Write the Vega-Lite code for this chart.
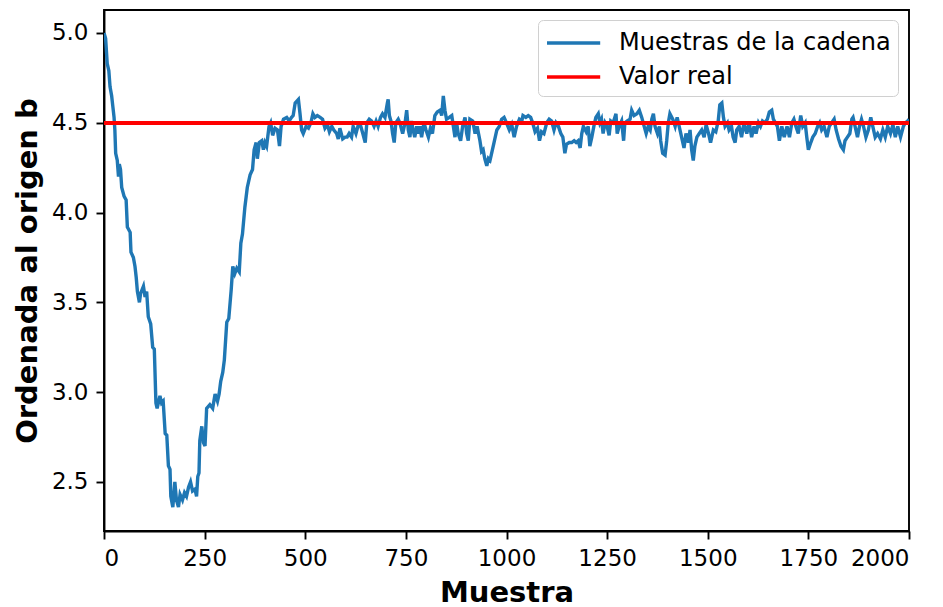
{
  "$schema": "https://vega.github.io/schema/vega-lite/v6.json",
  "width": 805,
  "height": 521,
  "autosize": {"type": "none"},
  "padding": {"left": 104, "top": 10, "right": 34, "bottom": 76},
  "background": "white",
  "config": {
    "font": "DejaVu Sans",
    "view": {"stroke": "black", "strokeWidth": 1.9},
    "axis": {
      "grid": false,
      "domainColor": "black",
      "domainWidth": 1.9,
      "tickColor": "black",
      "tickWidth": 1.9,
      "tickSize": 8,
      "labelColor": "black",
      "labelFont": "DejaVu Sans",
      "labelFontSize": 23,
      "labelPadding": 8,
      "titleColor": "black",
      "titleFont": "DejaVu Sans",
      "titleFontSize": 29,
      "titleFontWeight": "bold"
    }
  },
  "data": {
    "values": [
      {"muestra": 0, "b": 5.0}, {"muestra": 4, "b": 4.97}, {"muestra": 8, "b": 4.83}, {"muestra": 12, "b": 4.79},
      {"muestra": 15, "b": 4.7}, {"muestra": 19, "b": 4.65}, {"muestra": 22, "b": 4.59}, {"muestra": 25, "b": 4.53},
      {"muestra": 27, "b": 4.46}, {"muestra": 29, "b": 4.33}, {"muestra": 33, "b": 4.29}, {"muestra": 36, "b": 4.2},
      {"muestra": 38, "b": 4.27}, {"muestra": 41, "b": 4.24}, {"muestra": 44, "b": 4.14}, {"muestra": 50, "b": 4.09},
      {"muestra": 55, "b": 4.07}, {"muestra": 58, "b": 3.92}, {"muestra": 65, "b": 3.89}, {"muestra": 67, "b": 3.78},
      {"muestra": 73, "b": 3.75}, {"muestra": 77, "b": 3.7}, {"muestra": 80, "b": 3.64}, {"muestra": 83, "b": 3.56},
      {"muestra": 88, "b": 3.5}, {"muestra": 91, "b": 3.55}, {"muestra": 98, "b": 3.59}, {"muestra": 102, "b": 3.53},
      {"muestra": 106, "b": 3.56}, {"muestra": 110, "b": 3.42}, {"muestra": 116, "b": 3.38}, {"muestra": 121, "b": 3.25},
      {"muestra": 125, "b": 3.24}, {"muestra": 129, "b": 2.94}, {"muestra": 132, "b": 2.91}, {"muestra": 139, "b": 2.98},
      {"muestra": 143, "b": 2.94}, {"muestra": 147, "b": 2.95}, {"muestra": 152, "b": 2.77}, {"muestra": 156, "b": 2.76},
      {"muestra": 160, "b": 2.59}, {"muestra": 164, "b": 2.57}, {"muestra": 166, "b": 2.42}, {"muestra": 171, "b": 2.36},
      {"muestra": 176, "b": 2.5}, {"muestra": 180, "b": 2.4}, {"muestra": 185, "b": 2.36}, {"muestra": 189, "b": 2.43},
      {"muestra": 195, "b": 2.4}, {"muestra": 200, "b": 2.44}, {"muestra": 205, "b": 2.42}, {"muestra": 210, "b": 2.47},
      {"muestra": 215, "b": 2.5}, {"muestra": 220, "b": 2.45}, {"muestra": 226, "b": 2.46}, {"muestra": 230, "b": 2.42},
      {"muestra": 233, "b": 2.53}, {"muestra": 236, "b": 2.55}, {"muestra": 238, "b": 2.73}, {"muestra": 243, "b": 2.81},
      {"muestra": 247, "b": 2.72}, {"muestra": 251, "b": 2.7}, {"muestra": 255, "b": 2.91}, {"muestra": 263, "b": 2.93},
      {"muestra": 270, "b": 2.91}, {"muestra": 276, "b": 2.99}, {"muestra": 282, "b": 2.95}, {"muestra": 286, "b": 2.99},
      {"muestra": 290, "b": 3.06}, {"muestra": 295, "b": 3.11}, {"muestra": 299, "b": 3.18}, {"muestra": 305, "b": 3.39},
      {"muestra": 310, "b": 3.41}, {"muestra": 316, "b": 3.57}, {"muestra": 320, "b": 3.7}, {"muestra": 325, "b": 3.66},
      {"muestra": 330, "b": 3.69}, {"muestra": 336, "b": 3.67}, {"muestra": 340, "b": 3.83}, {"muestra": 344, "b": 3.88},
      {"muestra": 350, "b": 4.03}, {"muestra": 356, "b": 4.14}, {"muestra": 363, "b": 4.21}, {"muestra": 369, "b": 4.24},
      {"muestra": 373, "b": 4.35}, {"muestra": 378, "b": 4.39}, {"muestra": 381, "b": 4.3}, {"muestra": 386, "b": 4.39},
      {"muestra": 392, "b": 4.4}, {"muestra": 396, "b": 4.35}, {"muestra": 400, "b": 4.39}, {"muestra": 404, "b": 4.37},
      {"muestra": 410, "b": 4.48}, {"muestra": 414, "b": 4.5}, {"muestra": 419, "b": 4.43}, {"muestra": 425, "b": 4.47},
      {"muestra": 431, "b": 4.46}, {"muestra": 436, "b": 4.37}, {"muestra": 440, "b": 4.48}, {"muestra": 446, "b": 4.52},
      {"muestra": 454, "b": 4.53}, {"muestra": 460, "b": 4.51}, {"muestra": 466, "b": 4.53}, {"muestra": 470, "b": 4.54},
      {"muestra": 475, "b": 4.61}, {"muestra": 483, "b": 4.63}, {"muestra": 487, "b": 4.55}, {"muestra": 491, "b": 4.46},
      {"muestra": 495, "b": 4.44}, {"muestra": 502, "b": 4.48}, {"muestra": 508, "b": 4.47}, {"muestra": 514, "b": 4.5},
      {"muestra": 519, "b": 4.55}, {"muestra": 524, "b": 4.53}, {"muestra": 530, "b": 4.54}, {"muestra": 537, "b": 4.53},
      {"muestra": 543, "b": 4.52}, {"muestra": 549, "b": 4.47}, {"muestra": 555, "b": 4.49}, {"muestra": 560, "b": 4.45},
      {"muestra": 566, "b": 4.48}, {"muestra": 571, "b": 4.46}, {"muestra": 578, "b": 4.44}, {"muestra": 582, "b": 4.41},
      {"muestra": 586, "b": 4.47}, {"muestra": 593, "b": 4.41}, {"muestra": 599, "b": 4.42}, {"muestra": 604, "b": 4.42},
      {"muestra": 609, "b": 4.44}, {"muestra": 615, "b": 4.42}, {"muestra": 619, "b": 4.48}, {"muestra": 626, "b": 4.44},
      {"muestra": 632, "b": 4.49}, {"muestra": 638, "b": 4.48}, {"muestra": 643, "b": 4.44}, {"muestra": 649, "b": 4.39},
      {"muestra": 653, "b": 4.5}, {"muestra": 659, "b": 4.52}, {"muestra": 665, "b": 4.51}, {"muestra": 671, "b": 4.48},
      {"muestra": 676, "b": 4.51}, {"muestra": 681, "b": 4.48}, {"muestra": 687, "b": 4.53}, {"muestra": 692, "b": 4.55},
      {"muestra": 698, "b": 4.53}, {"muestra": 704, "b": 4.61}, {"muestra": 706, "b": 4.63}, {"muestra": 709, "b": 4.54},
      {"muestra": 713, "b": 4.51}, {"muestra": 717, "b": 4.44}, {"muestra": 721, "b": 4.39}, {"muestra": 725, "b": 4.5},
      {"muestra": 731, "b": 4.52}, {"muestra": 735, "b": 4.5}, {"muestra": 742, "b": 4.44}, {"muestra": 748, "b": 4.5},
      {"muestra": 752, "b": 4.57}, {"muestra": 756, "b": 4.46}, {"muestra": 760, "b": 4.42}, {"muestra": 764, "b": 4.51},
      {"muestra": 768, "b": 4.46}, {"muestra": 772, "b": 4.42}, {"muestra": 777, "b": 4.48}, {"muestra": 781, "b": 4.44},
      {"muestra": 785, "b": 4.48}, {"muestra": 789, "b": 4.42}, {"muestra": 795, "b": 4.5}, {"muestra": 800, "b": 4.46},
      {"muestra": 806, "b": 4.42}, {"muestra": 811, "b": 4.47}, {"muestra": 816, "b": 4.44}, {"muestra": 822, "b": 4.54},
      {"muestra": 828, "b": 4.56}, {"muestra": 835, "b": 4.57}, {"muestra": 839, "b": 4.54}, {"muestra": 843, "b": 4.65},
      {"muestra": 847, "b": 4.57}, {"muestra": 851, "b": 4.52}, {"muestra": 858, "b": 4.53}, {"muestra": 864, "b": 4.54},
      {"muestra": 868, "b": 4.48}, {"muestra": 872, "b": 4.42}, {"muestra": 876, "b": 4.5}, {"muestra": 880, "b": 4.44},
      {"muestra": 886, "b": 4.4}, {"muestra": 891, "b": 4.48}, {"muestra": 897, "b": 4.53}, {"muestra": 901, "b": 4.44},
      {"muestra": 905, "b": 4.4}, {"muestra": 909, "b": 4.52}, {"muestra": 916, "b": 4.51}, {"muestra": 922, "b": 4.44},
      {"muestra": 927, "b": 4.48}, {"muestra": 934, "b": 4.4}, {"muestra": 938, "b": 4.34}, {"muestra": 942, "b": 4.35},
      {"muestra": 946, "b": 4.3}, {"muestra": 951, "b": 4.26}, {"muestra": 955, "b": 4.3}, {"muestra": 959, "b": 4.29},
      {"muestra": 963, "b": 4.33}, {"muestra": 969, "b": 4.39}, {"muestra": 976, "b": 4.46}, {"muestra": 982, "b": 4.48},
      {"muestra": 988, "b": 4.52}, {"muestra": 994, "b": 4.53}, {"muestra": 1000, "b": 4.5}, {"muestra": 1007, "b": 4.46},
      {"muestra": 1013, "b": 4.49}, {"muestra": 1019, "b": 4.42}, {"muestra": 1025, "b": 4.48}, {"muestra": 1032, "b": 4.52},
      {"muestra": 1038, "b": 4.51}, {"muestra": 1041, "b": 4.54}, {"muestra": 1048, "b": 4.53}, {"muestra": 1054, "b": 4.54},
      {"muestra": 1060, "b": 4.53}, {"muestra": 1065, "b": 4.5}, {"muestra": 1071, "b": 4.45}, {"muestra": 1077, "b": 4.47},
      {"muestra": 1082, "b": 4.4}, {"muestra": 1087, "b": 4.45}, {"muestra": 1093, "b": 4.44}, {"muestra": 1100, "b": 4.5},
      {"muestra": 1106, "b": 4.52}, {"muestra": 1112, "b": 4.51}, {"muestra": 1118, "b": 4.46}, {"muestra": 1123, "b": 4.5},
      {"muestra": 1129, "b": 4.48}, {"muestra": 1135, "b": 4.44}, {"muestra": 1140, "b": 4.42}, {"muestra": 1145, "b": 4.33},
      {"muestra": 1149, "b": 4.38}, {"muestra": 1156, "b": 4.39}, {"muestra": 1162, "b": 4.39}, {"muestra": 1168, "b": 4.4},
      {"muestra": 1173, "b": 4.39}, {"muestra": 1178, "b": 4.4}, {"muestra": 1183, "b": 4.36}, {"muestra": 1187, "b": 4.44},
      {"muestra": 1191, "b": 4.48}, {"muestra": 1198, "b": 4.45}, {"muestra": 1203, "b": 4.48}, {"muestra": 1207, "b": 4.37},
      {"muestra": 1212, "b": 4.42}, {"muestra": 1217, "b": 4.48}, {"muestra": 1222, "b": 4.53}, {"muestra": 1228, "b": 4.55},
      {"muestra": 1232, "b": 4.5}, {"muestra": 1236, "b": 4.52}, {"muestra": 1240, "b": 4.44}, {"muestra": 1245, "b": 4.5},
      {"muestra": 1250, "b": 4.48}, {"muestra": 1255, "b": 4.43}, {"muestra": 1259, "b": 4.51}, {"muestra": 1265, "b": 4.5},
      {"muestra": 1272, "b": 4.55}, {"muestra": 1275, "b": 4.44}, {"muestra": 1280, "b": 4.48}, {"muestra": 1286, "b": 4.51},
      {"muestra": 1291, "b": 4.4}, {"muestra": 1294, "b": 4.5}, {"muestra": 1300, "b": 4.51}, {"muestra": 1307, "b": 4.52},
      {"muestra": 1311, "b": 4.57}, {"muestra": 1317, "b": 4.54}, {"muestra": 1324, "b": 4.55}, {"muestra": 1330, "b": 4.57},
      {"muestra": 1336, "b": 4.53}, {"muestra": 1342, "b": 4.48}, {"muestra": 1347, "b": 4.44}, {"muestra": 1352, "b": 4.48},
      {"muestra": 1357, "b": 4.46}, {"muestra": 1361, "b": 4.52}, {"muestra": 1365, "b": 4.55}, {"muestra": 1369, "b": 4.48},
      {"muestra": 1375, "b": 4.44}, {"muestra": 1380, "b": 4.48}, {"muestra": 1383, "b": 4.4}, {"muestra": 1388, "b": 4.33},
      {"muestra": 1394, "b": 4.32}, {"muestra": 1398, "b": 4.4}, {"muestra": 1402, "b": 4.5}, {"muestra": 1406, "b": 4.55},
      {"muestra": 1413, "b": 4.52}, {"muestra": 1419, "b": 4.48}, {"muestra": 1424, "b": 4.53}, {"muestra": 1429, "b": 4.48},
      {"muestra": 1435, "b": 4.42}, {"muestra": 1441, "b": 4.36}, {"muestra": 1446, "b": 4.44}, {"muestra": 1452, "b": 4.39},
      {"muestra": 1456, "b": 4.46}, {"muestra": 1460, "b": 4.35}, {"muestra": 1464, "b": 4.29}, {"muestra": 1468, "b": 4.37},
      {"muestra": 1473, "b": 4.42}, {"muestra": 1479, "b": 4.44}, {"muestra": 1485, "b": 4.46}, {"muestra": 1491, "b": 4.42},
      {"muestra": 1496, "b": 4.49}, {"muestra": 1502, "b": 4.44}, {"muestra": 1507, "b": 4.39}, {"muestra": 1514, "b": 4.46},
      {"muestra": 1520, "b": 4.45}, {"muestra": 1526, "b": 4.51}, {"muestra": 1530, "b": 4.6}, {"muestra": 1535, "b": 4.61},
      {"muestra": 1539, "b": 4.53}, {"muestra": 1543, "b": 4.48}, {"muestra": 1549, "b": 4.5}, {"muestra": 1553, "b": 4.46},
      {"muestra": 1559, "b": 4.48}, {"muestra": 1563, "b": 4.42}, {"muestra": 1568, "b": 4.39}, {"muestra": 1572, "b": 4.46},
      {"muestra": 1578, "b": 4.48}, {"muestra": 1584, "b": 4.42}, {"muestra": 1590, "b": 4.5}, {"muestra": 1597, "b": 4.44},
      {"muestra": 1603, "b": 4.5}, {"muestra": 1609, "b": 4.42}, {"muestra": 1615, "b": 4.48}, {"muestra": 1620, "b": 4.44},
      {"muestra": 1626, "b": 4.5}, {"muestra": 1631, "b": 4.48}, {"muestra": 1636, "b": 4.51}, {"muestra": 1642, "b": 4.5},
      {"muestra": 1648, "b": 4.52}, {"muestra": 1653, "b": 4.56}, {"muestra": 1659, "b": 4.57}, {"muestra": 1663, "b": 4.52},
      {"muestra": 1668, "b": 4.5}, {"muestra": 1673, "b": 4.48}, {"muestra": 1678, "b": 4.4}, {"muestra": 1684, "b": 4.48},
      {"muestra": 1690, "b": 4.42}, {"muestra": 1697, "b": 4.48}, {"muestra": 1703, "b": 4.42}, {"muestra": 1709, "b": 4.5},
      {"muestra": 1714, "b": 4.52}, {"muestra": 1719, "b": 4.48}, {"muestra": 1725, "b": 4.44}, {"muestra": 1731, "b": 4.54},
      {"muestra": 1736, "b": 4.48}, {"muestra": 1742, "b": 4.5}, {"muestra": 1746, "b": 4.42}, {"muestra": 1750, "b": 4.35},
      {"muestra": 1756, "b": 4.39}, {"muestra": 1761, "b": 4.42}, {"muestra": 1767, "b": 4.44}, {"muestra": 1773, "b": 4.48},
      {"muestra": 1778, "b": 4.5}, {"muestra": 1783, "b": 4.46}, {"muestra": 1789, "b": 4.48}, {"muestra": 1796, "b": 4.42},
      {"muestra": 1802, "b": 4.48}, {"muestra": 1808, "b": 4.5}, {"muestra": 1814, "b": 4.52}, {"muestra": 1819, "b": 4.46},
      {"muestra": 1825, "b": 4.41}, {"muestra": 1831, "b": 4.37}, {"muestra": 1837, "b": 4.35}, {"muestra": 1841, "b": 4.4},
      {"muestra": 1847, "b": 4.42}, {"muestra": 1853, "b": 4.44}, {"muestra": 1858, "b": 4.52}, {"muestra": 1861, "b": 4.53},
      {"muestra": 1866, "b": 4.48}, {"muestra": 1872, "b": 4.42}, {"muestra": 1877, "b": 4.48}, {"muestra": 1882, "b": 4.52},
      {"muestra": 1887, "b": 4.48}, {"muestra": 1893, "b": 4.42}, {"muestra": 1899, "b": 4.46}, {"muestra": 1905, "b": 4.53},
      {"muestra": 1910, "b": 4.48}, {"muestra": 1916, "b": 4.42}, {"muestra": 1922, "b": 4.44}, {"muestra": 1929, "b": 4.41},
      {"muestra": 1935, "b": 4.46}, {"muestra": 1941, "b": 4.42}, {"muestra": 1947, "b": 4.48}, {"muestra": 1954, "b": 4.44},
      {"muestra": 1960, "b": 4.49}, {"muestra": 1966, "b": 4.42}, {"muestra": 1972, "b": 4.48}, {"muestra": 1979, "b": 4.42},
      {"muestra": 1986, "b": 4.48}, {"muestra": 1991, "b": 4.5}, {"muestra": 1997, "b": 4.51}, {"muestra": 2000, "b": 4.52}
    ]
  },
  "layer": [
    {
      "mark": {"type": "line", "strokeWidth": 3.4, "clip": true},
      "encoding": {
        "x": {
          "field": "muestra",
          "type": "quantitative",
          "scale": {"domain": [0, 2000], "nice": false, "zero": false},
          "axis": {"values": [0, 250, 500, 750, 1000, 1250, 1500, 1750, 2000], "format": "d", "title": "Muestra", "titlePadding": 8}
        },
        "y": {
          "field": "b",
          "type": "quantitative",
          "scale": {"domain": [2.227, 5.128], "nice": false, "zero": false},
          "axis": {"values": [2.5, 3.0, 3.5, 4.0, 4.5, 5.0], "format": ".1f", "title": "Ordenada al origen b", "titlePadding": 9}
        },
        "color": {
          "datum": "Muestras de la cadena",
          "type": "nominal",
          "scale": {"domain": ["Muestras de la cadena", "Valor real"], "range": ["#1f77b4", "#ff0000"]},
          "legend": {
            "title": null,
            "orient": "none",
            "legendX": 434,
            "legendY": 10,
            "symbolType": "M-1,0H2.8",
            "symbolSize": 784,
            "symbolStrokeWidth": 3.4,
            "labelFont": "DejaVu Sans",
            "labelFontSize": 24,
            "labelLimit": 400,
            "labelColor": "black",
            "labelOffset": 42,
            "rowPadding": 6,
            "padding": 7,
            "fillColor": "rgba(255,255,255,0.8)",
            "strokeColor": "#d0d0d0",
            "cornerRadius": 5
          }
        }
      }
    },
    {
      "mark": {"type": "rule", "strokeWidth": 3.4},
      "encoding": {
        "y": {"datum": 4.5},
        "color": {"datum": "Valor real", "type": "nominal"}
      }
    }
  ]
}
